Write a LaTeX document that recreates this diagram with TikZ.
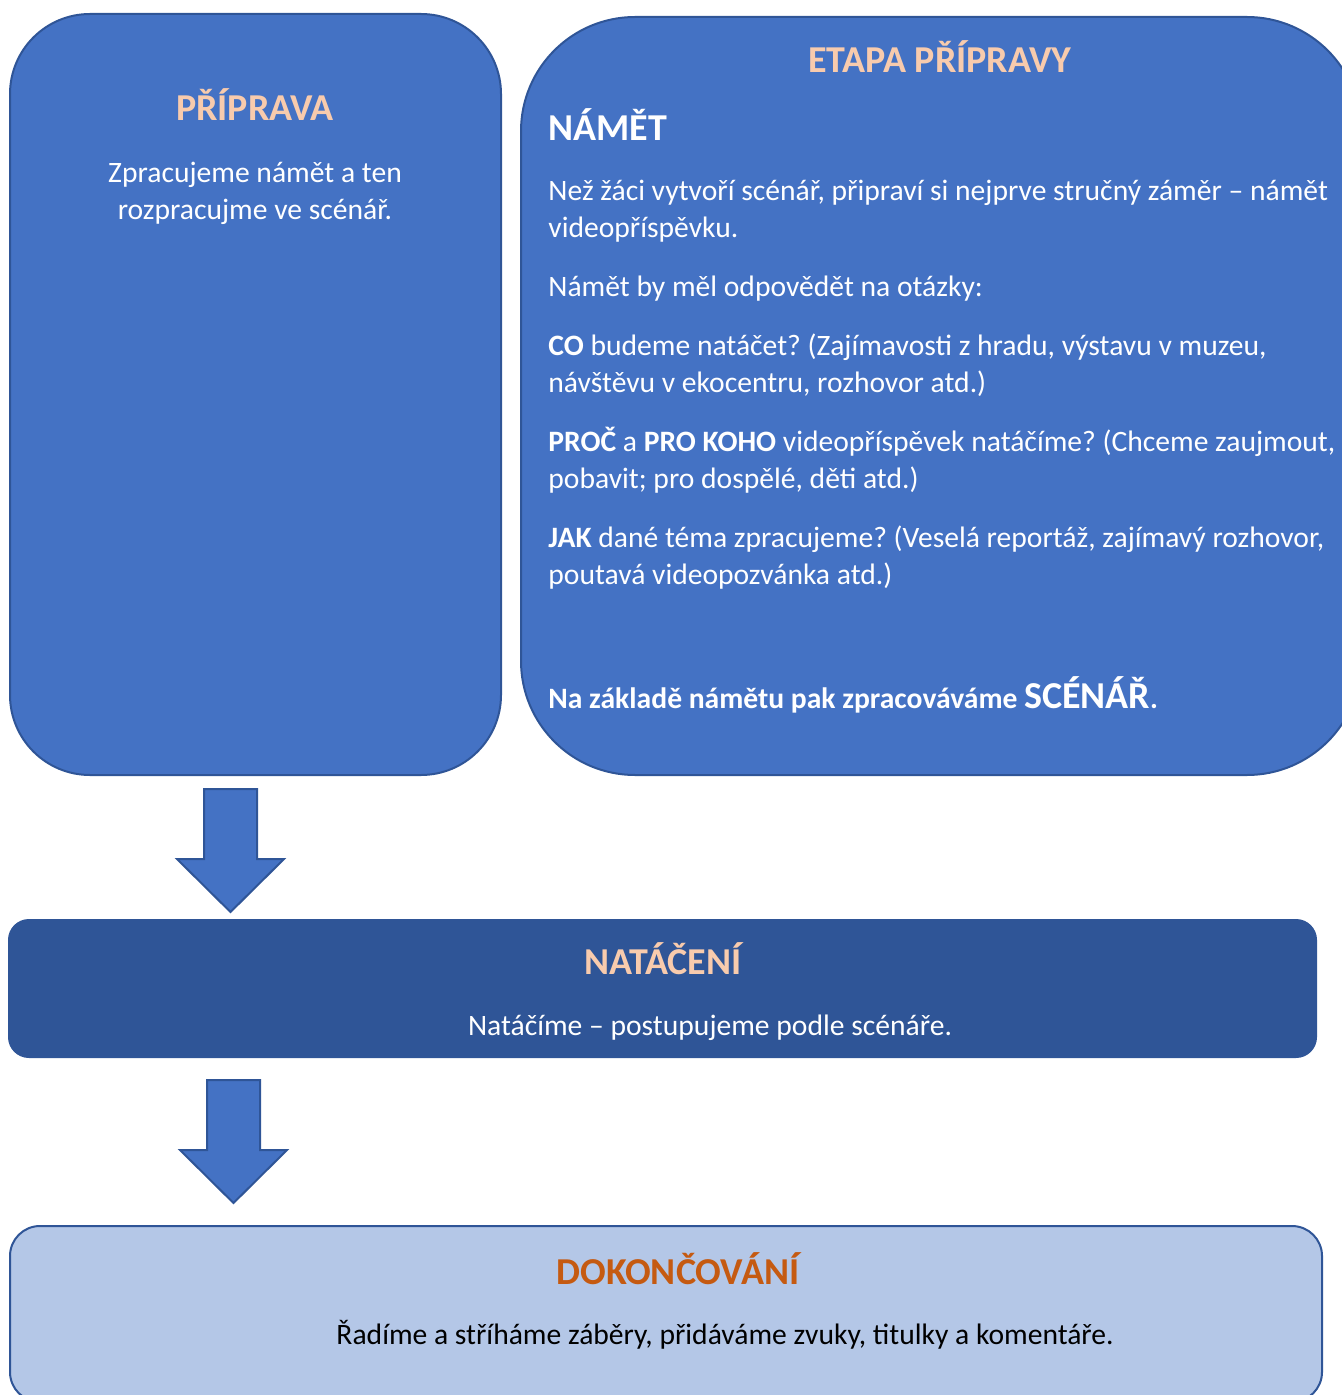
\documentclass[tikz,border=0pt]{standalone}
\usepackage{fontspec}
\setmainfont{Carlito}
\frenchspacing

\definecolor{boxblue}{HTML}{4472C4}
\definecolor{edgeblue}{HTML}{2F5597}
\definecolor{darkblue}{HTML}{2F5597}
\definecolor{lightblue}{HTML}{B4C7E7}
\definecolor{peach}{HTML}{F8CBAD}
\definecolor{rust}{HTML}{C55A11}

\tikzset{
    stagebox/.style={draw=edgeblue, line width=1pt, inner sep=0pt},
    heading/.style={font=\fontsize{19}{23}\selectfont\bfseries, inner sep=0pt, anchor=base},
    bodytext/.style={font=\fontsize{14.8}{18.5}\selectfont, text=white, inner sep=0pt},
    downarrow/.style={fill=boxblue, draw=edgeblue, line width=1pt, line join=miter}
}

\begin{document}
\begin{tikzpicture}[x=0.5pt, y=-0.5pt]
            \useasboundingbox (0, 0) rectangle (1341, 1395);
            % the four stages
            \node[stagebox, fill=boxblue, rounded corners=57pt, minimum width=420pt, minimum height=379pt] (etapa) at (941, 396) {};
            \node[stagebox, fill=boxblue, rounded corners=40pt, minimum width=245.5pt, minimum height=380.5pt] (pripr) at (255.5, 394.5) {};
            \node[stagebox, fill=darkblue, rounded corners=10pt, minimum width=653.5pt, minimum height=68.5pt] (natac) at (662.5, 988.5) {};
            \node[stagebox, fill=lightblue, rounded corners=15pt, minimum width=656pt, minimum height=88pt] (dokon) at (666, 1314) {};

            % two-line texts: base is the last line
            \node[heading, text=peach] (priprT) at (255, 121) {PŘÍPRAVA};
            \node[bodytext, align=center, anchor=base] (priprB) at (255, 220) {Zpracujeme námět a ten\\rozpracujme ve scénář.};

            \node[heading, text=peach] (etapaT) at (940, 73) {ETAPA PŘÍPRAVY};
            \node[heading, text=white, anchor=base west] (namet) at (548, 141) {NÁMĚT};
            \node[bodytext, align=left, anchor=base west] (par1) at (548, 238) {Než žáci vytvoří scénář, připraví si nejprve stručný záměr – námět\\videopříspěvku.};
            \node[bodytext, align=left, anchor=base west] (par2) at (548, 297) {Námět by měl odpovědět na otázky:};
            \node[bodytext, align=left, anchor=base west] (par3) at (548, 393) {\textbf{CO} budeme natáčet? (Zajímavosti z hradu, výstavu v muzeu,\\návštěvu v ekocentru, rozhovor atd.)};
            \node[bodytext, align=left, anchor=base west] (par4) at (548, 488) {\textbf{PROČ} a \textbf{PRO KOHO} videopříspěvek natáčíme? (Chceme zaujmout,\\pobavit; pro dospělé, děti atd.)};
            \node[bodytext, align=left, anchor=base west] (par5) at (548, 584) {\textbf{JAK} dané téma zpracujeme? (Veselá reportáž, zajímavý rozhovor,\\poutavá videopozvánka atd.)};
            \node[bodytext, font=\fontsize{14.8}{18.5}\selectfont\bfseries, anchor=base west] (zaver) at (548, 708) {Na základě námětu pak zpracováváme {\fontsize{19}{23}\selectfont SCÉNÁŘ}.};

            \node[heading, text=peach] (natacT) at (663, 974) {NATÁČENÍ};
            \node[bodytext, anchor=base] (natacB) at (710, 1035) {Natáčíme – postupujeme podle scénáře.};

            \node[heading, text=rust] (dokonT) at (678, 1284) {DOKONČOVÁNÍ};
            \node[bodytext, text=black, anchor=base] (dokonB) at (725, 1344) {Řadíme a stříháme záběry, přidáváme zvuky, titulky a komentáře.};

            % block arrows between the stages
            \foreach \ax/\ay in {204/789, 207/1080}
                \draw[downarrow] (\ax, \ay) -- (\ax + 53, \ay) -- (\ax + 53, \ay + 70) -- (\ax + 80, \ay + 70)
                    -- (\ax + 26.5, \ay + 123) -- (\ax - 27, \ay + 70) -- (\ax, \ay + 70) -- cycle;
\end{tikzpicture}
\end{document}
